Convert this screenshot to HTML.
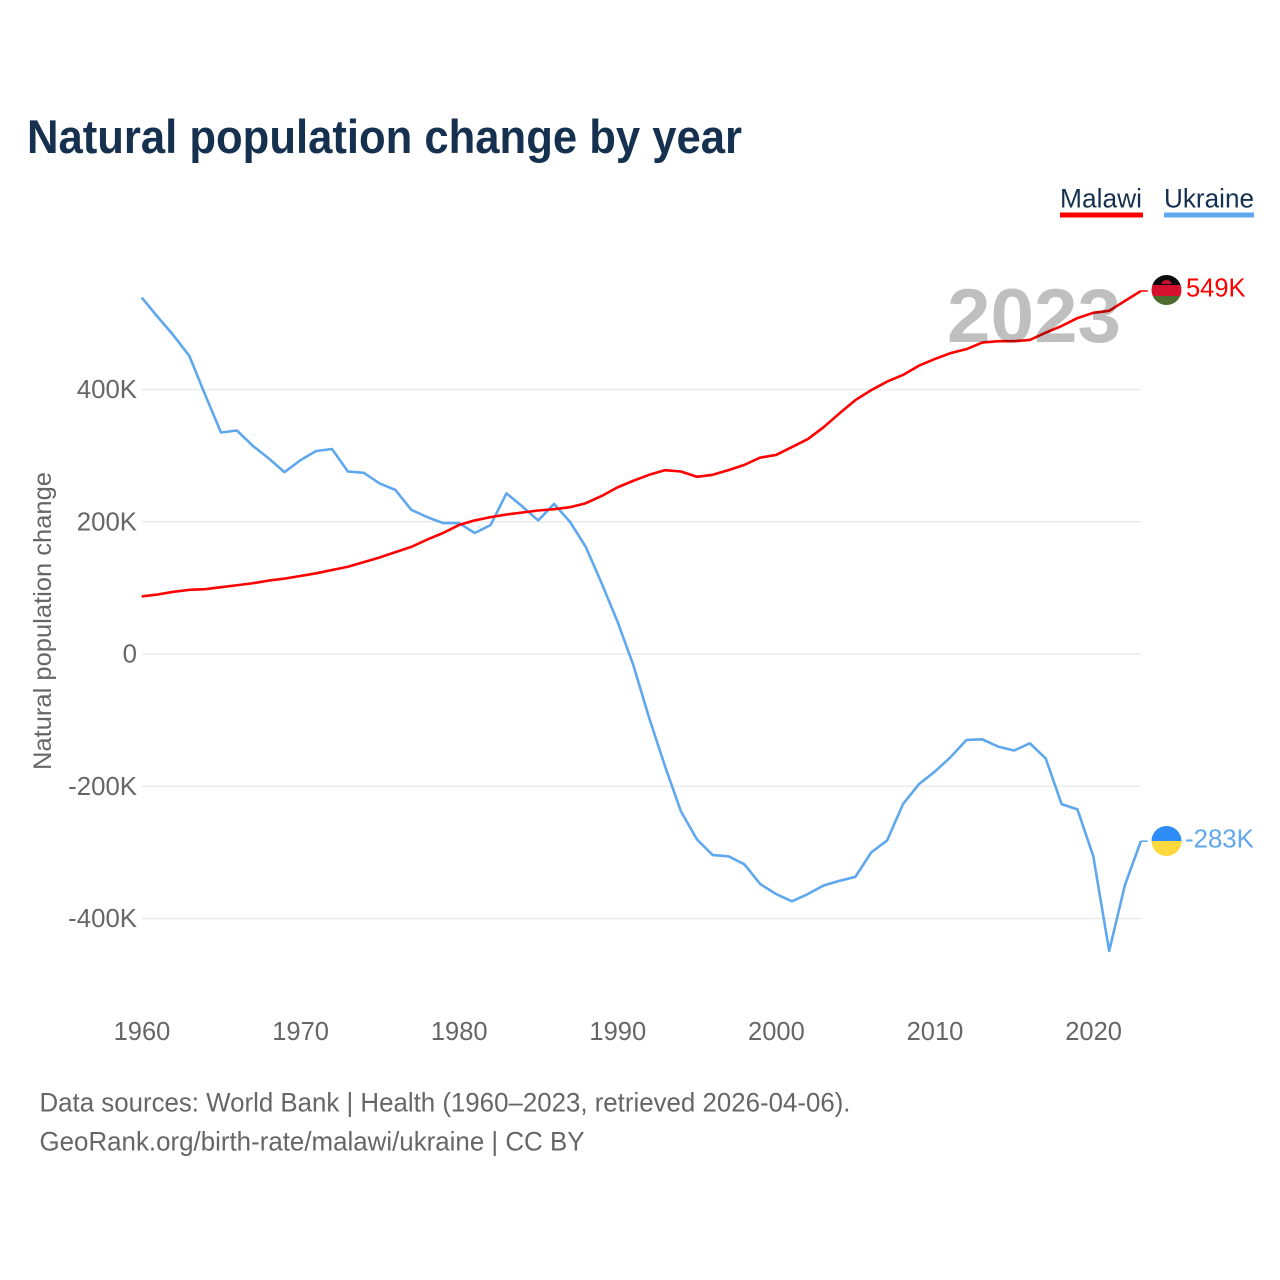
<!DOCTYPE html>
<html lang="en">
<head>
<meta charset="utf-8">
<title>Natural population change by year</title>
<style>
html,body{margin:0;padding:0;background:#fff;}
svg{display:block;font-family:"Liberation Sans",sans-serif;}
</style>
</head>
<body>
<svg id="chart" width="1280" height="1280" viewBox="0 0 1280 1280" xmlns="http://www.w3.org/2000/svg">
  <defs>
    <clipPath id="clip-mw"><circle cx="1166.5" cy="290" r="15"/></clipPath>
    <clipPath id="clip-ua"><circle cx="1166.5" cy="841" r="15"/></clipPath>
  </defs>
  <rect width="1280" height="1280" fill="#fff"/>
  <text x="27" y="153" font-size="47" font-weight="700" fill="#16314f" textLength="715" lengthAdjust="spacingAndGlyphs">Natural population change by year</text>

  <g>
    <text x="1060" y="207.5" font-size="27" fill="#16314f" textLength="82" lengthAdjust="spacingAndGlyphs">Malawi</text>
    <rect x="1060" y="212.5" width="83" height="5" fill="#ff0000"/>
  </g>
  <g>
    <text x="1164" y="207.5" font-size="27" fill="#16314f" textLength="90" lengthAdjust="spacingAndGlyphs">Ukraine</text>
    <rect x="1164" y="212.5" width="90" height="5" fill="#5fa8ee"/>
  </g>

  <g id="grid"></g>
  <g id="yticks"></g>
  <g id="xticks"></g>
  <text transform="translate(51 621) rotate(-90)" text-anchor="middle" font-size="25" fill="#666" textLength="298" lengthAdjust="spacingAndGlyphs">Natural population change</text>

  <g id="series"></g>

  <text x="947" y="342" font-size="76" font-weight="700" fill="#000" fill-opacity="0.25" textLength="174" lengthAdjust="spacingAndGlyphs">2023</text>

  <g clip-path="url(#clip-mw)">
    <rect x="1150" y="274" width="33" height="11" fill="#0b0b0b"/>
    <rect x="1150" y="285" width="33" height="11" fill="#d6102f"/>
    <rect x="1150" y="296" width="33" height="10" fill="#4b6c2e"/>
    <path d="M1161.5 284a5 4 0 0 1 10 0z" fill="#c8102e"/>
  </g>
  <g clip-path="url(#clip-ua)">
    <rect x="1150" y="825" width="33" height="16" fill="#2e8cf6"/>
    <rect x="1150" y="841" width="33" height="16" fill="#ffd83e"/>
  </g>
  <text id="label-malawi" x="1186" y="296.5" font-size="25.5" fill="#ff0000"></text>
  <text id="label-ukraine" x="1185" y="847.5" font-size="25.8" fill="#5fa8ee"></text>

  <text x="39.5" y="1111.5" font-size="27" fill="#666" textLength="811" lengthAdjust="spacingAndGlyphs">Data sources: World Bank | Health (1960–2023, retrieved 2026-04-06).</text>
  <text x="39.5" y="1150.5" font-size="27" fill="#666" textLength="545" lengthAdjust="spacingAndGlyphs">GeoRank.org/birth-rate/malawi/ukraine | CC BY</text>
</svg>
<script>
const startYear = 1960;
const xTickYears = [1960, 1970, 1980, 1990, 2000, 2010, 2020];
const yTickValues = [400, 200, 0, -200, -400];
const malawiValues = [87, 90, 94, 97, 98, 101, 104, 107, 111, 114, 118, 122, 127, 132, 139, 146, 154, 162, 173, 183, 195, 202, 207, 211, 214, 217, 219, 222, 228, 239, 252, 262, 271, 278, 276, 268, 271, 278, 286, 297, 301, 313, 325, 343, 364, 384, 399, 412, 422, 436, 446, 455, 461, 471, 473, 473, 475, 486, 496, 508, 516, 519, 534, 549];
const ukraineValues = [539, 510, 482, 451, 392, 335, 338, 315, 296, 275, 293, 307, 310, 276, 274, 258, 248, 218, 207, 198, 198, 183, 195, 243, 223, 202, 227, 200, 162, 107, 49, -17, -97, -170, -238, -280, -304, -306, -318, -348, -363, -374, -363, -350, -343, -337, -300, -282, -227, -197, -178, -156, -130, -129, -140, -146, -135, -158, -227, -235, -306, -449, -349, -283];

const NS = 'http://www.w3.org/2000/svg';
function xScale(year) { return 141.7 + (year - startYear) * 15.86; }
function yScale(v) { return 654 - v * 0.66125; }
function fmt(v) { return v === 0 ? '0' : v + 'K'; }

const gridG = document.getElementById('grid');
const yG = document.getElementById('yticks');
const xG = document.getElementById('xticks');
const seriesG = document.getElementById('series');

yTickValues.forEach(function (v) {
  const line = document.createElementNS(NS, 'line');
  
  
  line.setAttribute('x1', 142);
  line.setAttribute('x2', 1141);
  line.setAttribute('y1', yScale(v));
  line.setAttribute('y2', yScale(v));
  line.setAttribute('stroke', '#ebebeb');
  line.setAttribute('stroke-width', 1.5);
  gridG.appendChild(line);

  const t = document.createElementNS(NS, 'text');
  
  
  t.setAttribute('x', 137);
  t.setAttribute('y', yScale(v) + 8.5);
  t.setAttribute('text-anchor', 'end');
  t.setAttribute('font-size', 25.8);
  t.setAttribute('fill', '#666');
  t.textContent = fmt(v);
  yG.appendChild(t);
});

xTickYears.forEach(function (yr) {
  const t = document.createElementNS(NS, 'text');
  
  
  t.setAttribute('x', xScale(yr) + 0.3);
  t.setAttribute('y', 1040);
  t.setAttribute('text-anchor', 'middle');
  t.setAttribute('font-size', 25.5);
  t.setAttribute('fill', '#666');
  t.textContent = yr;
  xG.appendChild(t);
});

function drawSeries(values, color, name) {
  const pts = values.map(function (v, i) {
    return xScale(startYear + i).toFixed(2) + ',' + yScale(v).toFixed(2);
  });
  const path = document.createElementNS(NS, 'polyline');
  
  
  path.setAttribute('points', pts.join(' '));
  path.setAttribute('fill', 'none');
  path.setAttribute('stroke', color);
  path.setAttribute('stroke-width', 2.6);
  path.setAttribute('stroke-linejoin', 'round');
  seriesG.appendChild(path);

  const lastV = values[values.length - 1];
  const lastX = xScale(startYear + values.length - 1);
  const tail = document.createElementNS(NS, 'line');
  
  
  tail.setAttribute('x1', lastX);
  tail.setAttribute('x2', lastX + 7);
  tail.setAttribute('y1', yScale(lastV));
  tail.setAttribute('y2', yScale(lastV));
  tail.setAttribute('stroke', color);
  tail.setAttribute('stroke-width', 1.5);
  seriesG.appendChild(tail);
}

drawSeries(ukraineValues, '#5fa8ee', 'line-ukraine');
drawSeries(malawiValues, '#ff0000', 'line-malawi');

document.getElementById('label-malawi').textContent = fmt(malawiValues[malawiValues.length - 1]);
document.getElementById('label-ukraine').textContent = fmt(ukraineValues[ukraineValues.length - 1]);
</script>
</body>
</html>
